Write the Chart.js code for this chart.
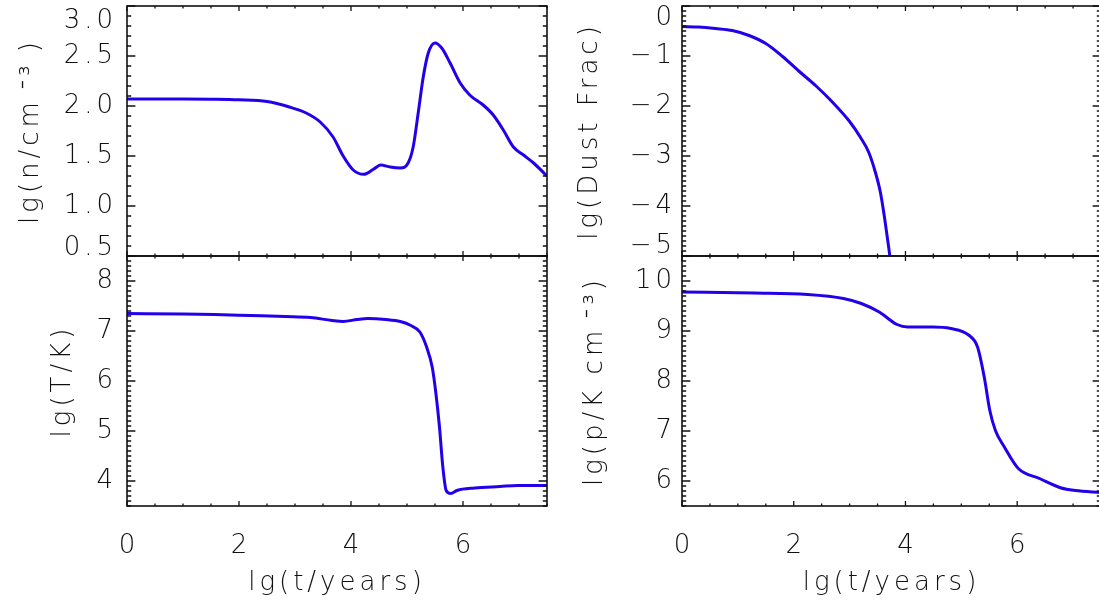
<!DOCTYPE html>
<html>
<head>
<meta charset="utf-8">
<script src="https://cdn.jsdelivr.net/npm/chart.js@4.4.1/dist/chart.umd.min.js"></script>
<style>
  html, body { margin: 0; padding: 0; background: #fff; overflow: hidden; width: 1099px; height: 604px; }
  canvas { position: absolute; left: 0; top: 0; }
</style>
</head>
<body>
<canvas id="cTL" width="1110" height="604"></canvas>
<canvas id="cBL" width="1110" height="604"></canvas>
<canvas id="cTR" width="1110" height="604"></canvas>
<canvas id="cBR" width="1110" height="604"></canvas>
<script>
// ---------- data ----------
const xTicks = [0, 2, 4, 6];

const xDensity = [0, 0.5, 1.0, 1.5, 2.0, 2.5, 2.9, 3.2, 3.45, 3.68, 3.86, 4.04, 4.23, 4.40, 4.53, 4.70, 4.88, 5.02, 5.11, 5.20, 5.29, 5.38, 5.50, 5.62, 5.77, 5.95, 6.12, 6.36, 6.54, 6.72, 6.90, 7.08, 7.26, 7.50];
const yDensity = [2.07, 2.07, 2.07, 2.068, 2.062, 2.045, 1.99, 1.93, 1.84, 1.69, 1.50, 1.36, 1.317, 1.367, 1.41, 1.39, 1.38, 1.43, 1.59, 1.93, 2.29, 2.53, 2.63, 2.58, 2.43, 2.23, 2.11, 2.01, 1.91, 1.76, 1.59, 1.51, 1.43, 1.30];
const yTicksDensity = [0.5, 1.0, 1.5, 2.0, 2.5, 3.0];

const xDust = [0, 0.3, 0.6, 0.9, 1.2, 1.5, 1.8, 2.1, 2.4, 2.7, 3.0, 3.19, 3.34, 3.46, 3.55, 3.61, 3.67, 3.72, 3.76];
const yDust = [-0.41, -0.42, -0.45, -0.49, -0.59, -0.75, -1.01, -1.31, -1.60, -1.93, -2.31, -2.62, -2.92, -3.32, -3.72, -4.12, -4.59, -5.0, -5.4];
const yTicksDust = [-5, -4, -3, -2, -1, 0];

const xTemp = [0, 1.0, 1.56, 2.2, 2.83, 3.28, 3.66, 3.86, 4.11, 4.30, 4.62, 4.88, 5.07, 5.23, 5.35, 5.45, 5.51, 5.58, 5.64, 5.70, 5.78, 5.89, 6.21, 6.66, 6.98, 7.5];
const yTemp = [7.35, 7.34, 7.33, 7.31, 7.29, 7.27, 7.21, 7.19, 7.23, 7.25, 7.23, 7.19, 7.11, 6.98, 6.68, 6.28, 5.81, 5.08, 4.28, 3.81, 3.75, 3.81, 3.86, 3.89, 3.91, 3.91];
const yTicksTemp = [4, 5, 6, 7, 8];

const xPress = [0, 1.29, 2.25, 2.89, 3.21, 3.53, 3.85, 4.04, 4.49, 4.81, 5.13, 5.29, 5.41, 5.51, 5.61, 5.77, 6.02, 6.40, 6.79, 7.04, 7.5];
const yPress = [9.78, 9.76, 9.73, 9.65, 9.55, 9.38, 9.13, 9.08, 9.08, 9.05, 8.92, 8.68, 8.08, 7.41, 7.01, 6.68, 6.25, 6.05, 5.86, 5.81, 5.77];
const yTicksPress = [6, 7, 8, 9, 10];

// ---------- styling ----------
const FAMILY = "'DejaVu Sans', 'Liberation Sans', sans-serif";
const WEIGHT = 200;
const FSIZE = 26;
const LINE_COLOR = 'rgb(34,0,235)';

const idlFrame = {
  id: 'idlFrame',
  beforeLayout(chart) { chart.ctx.letterSpacing = '4px'; },
  beforeDraw(chart) { chart.ctx.letterSpacing = '4px'; },
  afterDatasetsDraw(chart, args, o) {
    const { ctx, chartArea: a, scales: { x, y } } = chart;
    ctx.save();
    ctx.strokeStyle = '#111';
    ctx.lineWidth = 1.3;
    const xl = 0.02 * (a.bottom - a.top);
    const yl = 0.02 * (a.right - a.left);
    const isMaj = (v, m) => Math.abs(v / m - Math.round(v / m)) < 1e-6;
    ctx.beginPath();
    const nx = Math.round((x.max - x.min) / o.xMinor);
    for (let i = 0; i <= nx; i++) {
      const v = x.min + i * o.xMinor;
      const p = x.getPixelForValue(v);
      const L = isMaj(v, o.xMajor) ? xl : xl / 2;
      ctx.moveTo(p, a.bottom); ctx.lineTo(p, a.bottom - L);
      ctx.moveTo(p, a.top); ctx.lineTo(p, a.top + L);
    }
    const ny = Math.round((y.max - y.min) / o.yMinor);
    for (let i = 0; i <= ny; i++) {
      const v = y.min + i * o.yMinor;
      const p = y.getPixelForValue(v);
      const L = isMaj(v, o.yMajor) ? yl : yl / 2;
      ctx.moveTo(a.left, p); ctx.lineTo(a.left + L, p);
      ctx.moveTo(a.right, p); ctx.lineTo(a.right - L, p);
    }
    ctx.stroke();
    ctx.lineWidth = 1.6;
    ctx.strokeRect(a.left, a.top, a.right - a.left, a.bottom - a.top);
    ctx.restore();
  }
};

function makePanel(id, cfg) {
  const pts = cfg.xs.map((xv, i) => ({ x: xv, y: cfg.ys[i] }));
  const yTickVals = cfg.yTicks;
  const font = (ctx) => {
    let lh = 1.2;
    if (ctx && ctx.tick) {
      if (ctx.tick.value === cfg.yMax && cfg.topShift) lh = (2 * cfg.topShift) + 'px';
      if (ctx.tick.value === cfg.yMin && cfg.botShift) lh = (2 * cfg.botShift) + 'px';
    }
    return { family: FAMILY, size: FSIZE, weight: WEIGHT, lineHeight: lh };
  };
  new Chart(document.getElementById(id), {
    type: 'line',
    data: {
      datasets: [{
        data: pts,
        borderColor: LINE_COLOR,
        borderWidth: 3,
        pointRadius: 0,
        fill: false,
        cubicInterpolationMode: 'monotone'
      }]
    },
    options: {
      responsive: false,
      animation: false,
      events: [],
      layout: { padding: cfg.padding },
      plugins: {
        legend: { display: false },
        tooltip: { enabled: false },
        idlFrame: { xMinor: 0.5, xMajor: 2, yMinor: cfg.yMinor, yMajor: cfg.yMajor }
      },
      scales: {
        x: {
          type: 'linear',
          min: 0, max: 7.5,
          display: cfg.showX,
          afterBuildTicks: (s) => { s.ticks = xTicks.map(v => ({ value: v })); },
          afterFit: (s) => { s.height = cfg.showX ? 98 : 0; s.paddingLeft = 0; s.paddingRight = 0; },
          grid: { display: false, drawTicks: false },
          border: { display: false },
          ticks: {
            color: '#111',
            padding: 25,
            labelOffset: 2,
            maxRotation: 0,
            autoSkip: false,
            font: { family: FAMILY, size: FSIZE, weight: WEIGHT },
            callback: (v) => String(v)
          },
          title: {
            display: true,
            text: 'lg(t/years)',
            color: '#111',
            font: { family: FAMILY, size: FSIZE, weight: WEIGHT },
            padding: { top: 0, bottom: 5 }
          }
        },
        y: {
          type: 'linear',
          min: cfg.yMin, max: cfg.yMax,
          afterBuildTicks: (s) => { s.ticks = yTickVals.map(v => ({ value: v })); },
          afterFit: (s) => { s.width = cfg.yWidth; s.paddingTop = 0; s.paddingBottom = 0; },
          grid: { display: false, drawTicks: false },
          border: { display: false },
          ticks: {
            color: '#111',
            padding: cfg.labelPad,
            autoSkip: false,
            font: font,
            callback: (v) => {
              const t = cfg.fmt(v);
              if (v === cfg.yMax && cfg.topShift) return ['', t];
              if (v === cfg.yMin && cfg.botShift) return [t, ''];
              return t;
            }
          },
          title: {
            display: true,
            text: cfg.title,
            color: '#111',
            font: { family: FAMILY, size: FSIZE, weight: WEIGHT },
            padding: { top: cfg.titlePad, bottom: 0 }
          }
        }
      }
    },
    plugins: [idlFrame]
  });
}

const minus = (v) => (v < 0 ? '\u2212' + Math.abs(v) : String(v));

makePanel('cTL', {
  xs: xDensity, ys: yDensity, yTicks: yTicksDensity,
  yMin: 0.5, yMax: 3.0, yMinor: 0.1, yMajor: 0.5,
  fmt: (v) => v.toFixed(1),
  topShift: 15, botShift: 8,
  title: 'lg(n/cm\u2009\u207B\u00B3\u2009)',
  padding: { left: 0, top: 6, right: 563, bottom: 348 },
  yWidth: 127, labelPad: 10, titlePad: 16, showX: false
});
makePanel('cBL', {
  xs: xTemp, ys: yTemp, yTicks: yTicksTemp,
  yMin: 3.5, yMax: 8.5, yMinor: 0.1, yMajor: 1,
  fmt: (v) => String(v),
  topShift: 0, botShift: 0,
  title: 'lg(T/K)',
  padding: { left: 0, top: 256, right: 563, bottom: 0 },
  yWidth: 127, labelPad: 10, titlePad: 48, showX: true
});
makePanel('cTR', {
  xs: xDust, ys: yDust, yTicks: yTicksDust,
  yMin: -5, yMax: 0, yMinor: 0.1, yMajor: 1,
  fmt: minus,
  topShift: 12, botShift: 10,
  title: 'lg(Dust Frac)',
  padding: { left: 549, top: 6, right: 9, bottom: 348 },
  yWidth: 133, labelPad: 6, titlePad: 26, showX: false
});
makePanel('cBR', {
  xs: xPress, ys: yPress, yTicks: yTicksPress,
  yMin: 5.5, yMax: 10.5, yMinor: 0.1, yMajor: 1,
  fmt: (v) => String(v),
  topShift: 0, botShift: 0,
  title: 'lg(p/K cm\u2009\u207B\u00B3)',
  padding: { left: 549, top: 256, right: 9, bottom: 0 },
  yWidth: 133, labelPad: 6, titlePad: 31, showX: true
});
</script>
</body>
</html>
